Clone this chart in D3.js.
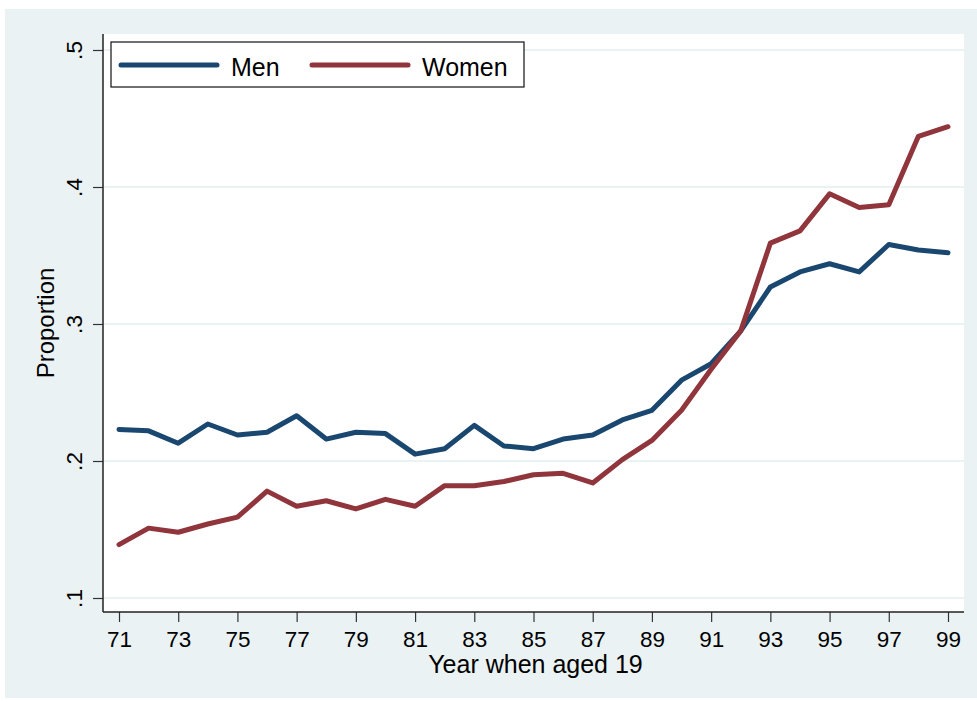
<!DOCTYPE html>
<html>
<head>
<meta charset="utf-8">
<script src="https://cdn.jsdelivr.net/npm/d3@7"></script>
<style>
  html, body { margin: 0; padding: 0; background: #fff; }
  svg { display: block; font-family: "Liberation Sans", Arial, sans-serif; }
</style>
</head>
<body>
<svg id="chart" width="977" height="702"></svg>
<script>
// Year when aged 19 (two-digit years)
const years = d3.range(71, 100);
const men = [0.223, 0.222, 0.213, 0.227, 0.219, 0.221, 0.233, 0.216, 0.221, 0.220,
  0.205, 0.209, 0.226, 0.211, 0.209, 0.216, 0.219, 0.230, 0.237, 0.259,
  0.271, 0.295, 0.327, 0.338, 0.344, 0.338, 0.358, 0.354, 0.352];
const women = [0.139, 0.151, 0.148, 0.154, 0.159, 0.178, 0.167, 0.171, 0.165, 0.172,
  0.167, 0.182, 0.182, 0.185, 0.190, 0.191, 0.184, 0.201, 0.215, 0.237,
  0.267, 0.295, 0.359, 0.368, 0.395, 0.385, 0.387, 0.437, 0.444];
const yTicks = [0.1, 0.2, 0.3, 0.4, 0.5];
const xTicks = d3.range(71, 100, 2);
const series = [
  { name: 'Men', values: men, color: '#1a476f' },
  { name: 'Women', values: women, color: '#90353b' }
];

const svg = d3.select('#chart');
const bg = '#eaf2f3';

// Stata-style outer region
svg.append('rect').attr('x', 5).attr('y', 9).attr('width', 972).attr('height', 689).attr('fill', bg);

const plot = { left: 103, top: 34, right: 964, bottom: 612 };
svg.append('rect')
  .attr('x', plot.left).attr('y', plot.top)
  .attr('width', plot.right - plot.left).attr('height', plot.bottom - plot.top)
  .attr('fill', '#fff');

const x = d3.scaleLinear().domain([71, 99]).range([119, 948]);
const y = d3.scaleLinear().domain([0.1, 0.5]).range([598, 50]);

// Gridlines
svg.append('g')
  .selectAll('line')
  .data(yTicks)
  .join('line')
  .attr('x1', plot.left).attr('x2', plot.right)
  .attr('y1', d => y(d)).attr('y2', d => y(d))
  .attr('stroke', bg)
  .attr('stroke-width', 2);

// Y axis
const yAxis = svg.append('g')
  .attr('transform', `translate(${plot.left},0)`)
  .call(d3.axisLeft(y)
    .tickValues(yTicks)
    .tickSize(10)
    .tickPadding(0)
    .tickFormat(d => d3.format('.1f')(d).replace(/^0/, '')));
yAxis.select('.domain').remove();
yAxis.selectAll('.tick line').attr('stroke', '#333').attr('stroke-width', 1.2);
yAxis.selectAll('.tick text')
  .attr('x', null).attr('dy', null)
  .attr('transform', 'translate(-21,0) rotate(-90)')
  .attr('text-anchor', 'middle')
  .attr('font-size', 22.5)
  .attr('font-family', '"Liberation Sans", Arial, sans-serif')
  .attr('fill', '#000');

// X axis
const xAxis = svg.append('g')
  .attr('transform', `translate(0,${plot.bottom})`)
  .call(d3.axisBottom(x)
    .tickValues(xTicks)
    .tickSize(10)
    .tickPadding(9)
    .tickFormat(d3.format('d')));
xAxis.select('.domain').remove();
xAxis.selectAll('.tick line').attr('stroke', '#333').attr('stroke-width', 1.2);
xAxis.selectAll('.tick text')
  .attr('font-size', 22.5)
  .attr('font-family', '"Liberation Sans", Arial, sans-serif')
  .attr('fill', '#000');

// Axis lines
svg.append('line')
  .attr('x1', plot.left).attr('x2', plot.left)
  .attr('y1', plot.top).attr('y2', plot.bottom)
  .attr('stroke', '#222').attr('stroke-width', 1.5);
svg.append('line')
  .attr('x1', plot.left).attr('x2', plot.right)
  .attr('y1', plot.bottom).attr('y2', plot.bottom)
  .attr('stroke', '#222').attr('stroke-width', 1.5);

// Lines
const line = d3.line()
  .x((d, i) => x(years[i]))
  .y(d => y(d));

svg.append('g')
  .selectAll('path')
  .data(series)
  .join('path')
  .attr('d', s => line(s.values))
  .attr('fill', 'none')
  .attr('stroke', s => s.color)
  .attr('stroke-width', 5)
  .attr('stroke-linejoin', 'round')
  .attr('stroke-linecap', 'round');

// Axis titles
svg.append('text')
  .attr('x', (plot.left + plot.right) / 2 + 2)
  .attr('y', 673)
  .attr('text-anchor', 'middle')
  .attr('font-size', 25)
  .text('Year when aged 19');

svg.append('text')
  .attr('transform', `translate(54,${(plot.top + plot.bottom) / 2}) rotate(-90)`)
  .attr('text-anchor', 'middle')
  .attr('font-size', 24)
  .text('Proportion');

// Legend
const legend = svg.append('g');
legend.append('rect')
  .attr('x', 111).attr('y', 42).attr('width', 413).attr('height', 45)
  .attr('fill', '#fff').attr('stroke', '#111').attr('stroke-width', 1.2);

const legendX = [121, 312];
const item = legend.selectAll('g.item')
  .data(series)
  .join('g')
  .attr('class', 'item')
  .attr('transform', (d, i) => `translate(${legendX[i]},65)`);
item.append('line')
  .attr('x1', 0).attr('x2', 96)
  .attr('stroke', d => d.color)
  .attr('stroke-width', 5)
  .attr('stroke-linecap', 'round');
item.append('text')
  .attr('x', 110).attr('y', 11)
  .attr('font-size', 25)
  .text(d => d.name);
</script>
</body>
</html>
